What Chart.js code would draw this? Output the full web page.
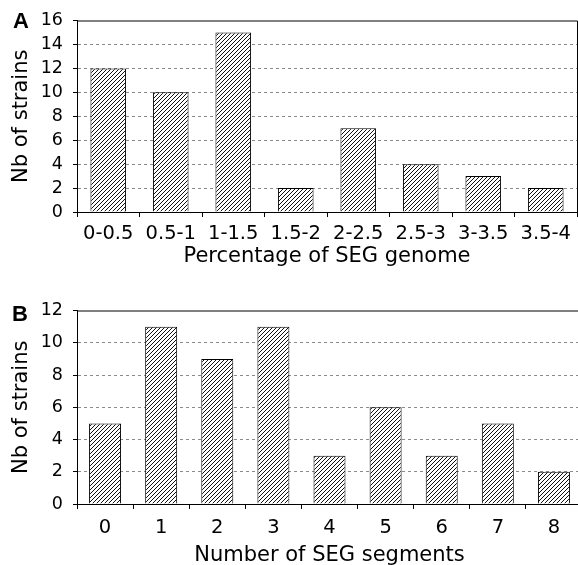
<!DOCTYPE html>
<html lang="en">
<head>
    <meta charset="UTF-8" />
    <title>SEG strains</title>
    <script src="https://cdn.jsdelivr.net/npm/chart.js"></script>
    <style>
        html, body {
            margin: 0;
            padding: 0;
            background: #fff;
            width: 578px;
            height: 565px;
            overflow: hidden;
        }
        .panel {
            position: absolute;
            left: 0;
            overflow: hidden;
        }
    </style>
</head>
<body>

<div class="panel" style="top:0;width:578px;height:280px">
    <canvas id="chartA" width="578" height="280"></canvas>
</div>
<div class="panel" style="top:280px;width:578px;height:285px">
    <canvas id="chartB" width="584" height="290"></canvas>
</div>

<script>
    // panel A
    const percentLabels = ['0-0.5', '0.5-1', '1-1.5', '1.5-2', '2-2.5', '2.5-3', '3-3.5', '3.5-4'];
    const percentCounts = [12, 10, 15, 2, 7, 4, 3, 2];
    const percentTicks = [0, 2, 4, 6, 8, 10, 12, 14, 16];

    // panel B
    const segmentLabels = ['0', '1', '2', '3', '4', '5', '6', '7', '8'];
    const segmentCounts = [5, 11, 9, 11, 3, 6, 3, 5, 2];
    const segmentTicks = [0, 2, 4, 6, 8, 10, 12];

    const FONT = '"DejaVu Sans", Verdana, sans-serif';

    function hatch() {
        const c = document.createElement('canvas');
        c.width = 4;
        c.height = 4;
        const g = c.getContext('2d');
        g.fillStyle = '#fff';
        g.fillRect(0, 0, 4, 4);
        g.strokeStyle = '#111';
        g.lineWidth = 1;
        g.beginPath();
        g.moveTo(0, 4); g.lineTo(4, 0);
        g.moveTo(-1, 1); g.lineTo(1, -1);
        g.moveTo(3, 5); g.lineTo(5, 3);
        g.stroke();
        return g.createPattern(c, 'repeat');
    }

    // top + right frame and the panel letter
    function framePlugin(letter, lx, ly) {
        return {
            id: 'frame' + letter,
            afterDraw(chart) {
                const { ctx, chartArea } = chart;
                ctx.save();
                ctx.strokeStyle = '#000';
                ctx.lineWidth = 1;
                ctx.beginPath();
                ctx.moveTo(chartArea.left, chartArea.top + 0.5);
                ctx.lineTo(chartArea.right + 0.5, chartArea.top + 0.5);
                ctx.lineTo(chartArea.right + 0.5, chartArea.bottom);
                ctx.stroke();
                ctx.fillStyle = '#000';
                ctx.font = 'bold 22px "Liberation Sans", Arial, sans-serif';
                ctx.textBaseline = 'alphabetic';
                ctx.fillText(letter, lx, ly);
                ctx.restore();
            }
        };
    }

    function makeChart(id, labels, counts, ticks, xTitle, cfg) {
        const maxY = ticks[ticks.length - 1];
        return new Chart(document.getElementById(id), {
            type: 'bar',
            data: {
                labels: labels,
                datasets: [{
                    data: counts,
                    backgroundColor: hatch(),
                    borderColor: '#000',
                    borderWidth: 1,
                    barPercentage: 0.57,
                    categoryPercentage: 1
                }]
            },
            options: {
                responsive: false,
                animation: false,
                layout: { padding: cfg.padding },
                plugins: {
                    legend: { display: false },
                    tooltip: { enabled: false }
                },
                scales: {
                    x: {
                        afterFit(scale) { scale.height = cfg.xHeight; },
                        grid: {
                            drawOnChartArea: false,
                            tickLength: 5,
                            tickColor: '#000'
                        },
                        border: { color: '#000', width: 1 },
                        ticks: {
                            color: '#000',
                            padding: cfg.xTickPad,
                            maxRotation: 0,
                            autoSkip: false,
                            font: { family: FONT, size: 19.5 }
                        },
                        title: {
                            display: true,
                            text: xTitle,
                            color: '#000',
                            padding: { top: 0, bottom: cfg.xTitlePad },
                            font: { family: FONT, size: 21 }
                        }
                    },
                    y: {
                        min: 0,
                        max: maxY,
                        afterFit(scale) { scale.width = 77; },
                        afterBuildTicks(scale) {
                            scale.ticks = ticks.map(v => ({ value: v }));
                        },
                        grid: {
                            color: c => (c.tick && (c.tick.value === 0 || c.tick.value === maxY)) ? 'rgba(0,0,0,0)' : '#8a8a8a',
                            tickColor: '#000',
                            tickLength: 4
                        },
                        border: { color: '#000', width: 1, dash: [3, 3] },
                        ticks: {
                            color: '#000',
                            padding: 10,
                            autoSkip: false,
                            font: { family: FONT, size: 17.5 }
                        },
                        title: {
                            display: true,
                            text: 'Nb of strains',
                            color: '#000',
                            padding: { top: 9, bottom: 0 },
                            font: { family: FONT, size: 21 }
                        }
                    }
                }
            },
            plugins: [framePlugin(cfg.letter, cfg.lx, cfg.ly)]
        });
    }

    makeChart('chartA', percentLabels, percentCounts, percentTicks, 'Percentage of SEG genome', {
        padding: { top: 17, right: 1, left: 0, bottom: 0 },
        xHeight: 68,
        xTickPad: 5,
        xTitlePad: 11,
        letter: 'A', lx: 13, ly: 28
    });

    makeChart('chartB', segmentLabels, segmentCounts, segmentTicks, 'Number of SEG segments', {
        padding: { top: 30.5, right: 2, left: 0, bottom: 0 },
        xHeight: 66,
        xTickPad: 7,
        xTitlePad: 2,
        letter: 'B', lx: 12, ly: 41
    });
</script>

</body>
</html>
